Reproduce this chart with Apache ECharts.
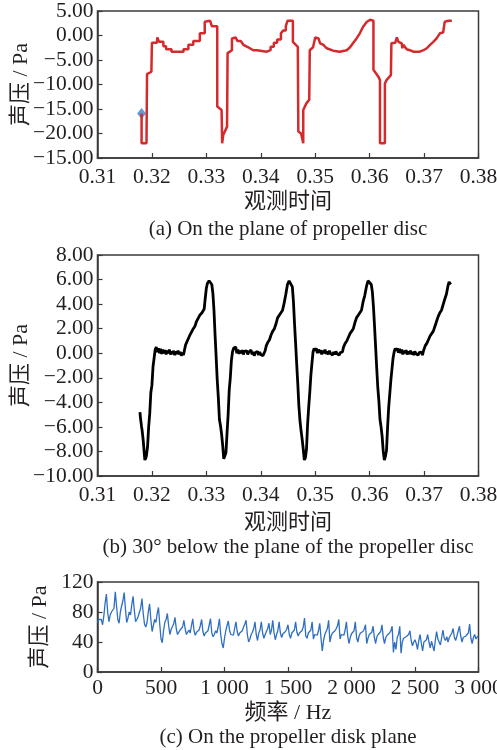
<!DOCTYPE html>
<html><head><meta charset="utf-8">
<script src="https://cdn.jsdelivr.net/npm/echarts@6/dist/echarts.min.js"></script>
<style>html,body{margin:0;padding:0;background:#fff}#c{width:497px;height:750px}</style>
</head><body><div id="c"></div>
<script>
// (a) time-domain signal on the plane of the propeller disc
const timeA = [0.3181,0.3181,0.3190,0.3191,0.3199,0.3200,0.3209,0.3210,0.3213,0.3221,0.3221,0.3226,0.3226,0.3236,0.3236,0.3258,0.3258,0.3267,0.3267,0.3276,0.3276,0.3288,0.3288,0.3297,0.3297,0.3307,0.3310,0.3320,0.3320,0.3328,0.3329,0.3331,0.3338,0.3339,0.3347,0.3347,0.3354,0.3357,0.3363,0.3363,0.3368,0.3377,0.3386,0.3393,0.3393,0.3411,0.3411,0.3418,0.3418,0.3424,0.3424,0.3430,0.3430,0.3437,0.3437,0.3441,0.3446,0.3446,0.3449,0.3449,0.3459,0.3459,0.3468,0.3469,0.3474,0.3478,0.3478,0.3484,0.3489,0.3490,0.3496,0.3500,0.3506,0.3509,0.3512,0.3515,0.3521,0.3533,0.3545,0.3558,0.3564,0.3570,0.3576,0.3582,0.3588,0.3595,0.3601,0.3607,0.3607,0.3616,0.3619,0.3619,0.3628,0.3628,0.3631,0.3639,0.3640,0.3647,0.3650,0.3653,0.3659,0.3660,0.3662,0.3668,0.3674,0.3680,0.3692,0.3699,0.3705,0.3711,0.3717,0.3723,0.3729,0.3735,0.3738,0.3745,0.3751];
const pressureA = [-15.9,-22.0,-22.0,-7.9,-7.4,-1.5,-1.5,-0.4,-1.3,-1.3,-2.2,-2.2,-2.8,-2.8,-3.3,-3.3,-2.8,-2.8,-1.9,-1.9,-1.1,-1.1,0.45,0.45,2.8,3.0,1.9,1.9,-14.5,-15.2,-22.0,-20.3,-18.6,-3.6,-3.0,-0.6,-0.4,-1.1,-1.1,-1.5,-1.9,-2.4,-3.0,-3.0,-3.3,-3.3,-3.0,-3.0,-2.3,-2.3,-1.5,-1.5,-0.8,-0.8,0.45,1.0,1.0,1.9,1.9,3.0,3.0,-1.3,-2.3,-19.6,-20.0,-22.0,-15.2,-13.8,-13.1,-3.0,-2.4,-0.4,-0.6,-1.6,-1.3,-1.9,-2.6,-3.1,-3.3,-3.0,-2.4,-1.5,-0.6,0.45,1.8,2.8,3.2,3.0,-7.0,-8.4,-9.1,-22.0,-22.0,-9.8,-9.1,-8.1,-1.6,-1.5,-0.4,-1.3,-1.6,-2.6,-1.9,-2.8,-3.0,-3.3,-3.3,-3.0,-2.6,-1.9,-1.3,-0.6,0.45,0.6,2.8,3.0,3.0];
// tick labels of (a), bottom to top, as printed in the source
const yLabelsA = ['−15.00','−20.00','−15.00','−10.00','−5.00','0.00','5.00'];

// (b) 30° below the plane of the propeller disc
const timeB = [0.3178,0.3179,0.3181,0.3182,0.3184,0.3186,0.3187,0.3189,0.3190,0.3192,0.3194,0.3196,0.3198,0.3200,0.3202,0.3204,0.3206,0.3208,0.3210,0.3212,0.3214,0.3216,0.3218,0.3220,0.3222,0.3224,0.3226,0.3228,0.3230,0.3232,0.3234,0.3236,0.3238,0.3240,0.3242,0.3244,0.3246,0.3248,0.3250,0.3252,0.3254,0.3256,0.3258,0.3260,0.3262,0.3264,0.3267,0.3270,0.3273,0.3276,0.3279,0.3282,0.3285,0.3288,0.3290,0.3292,0.3294,0.3296,0.3298,0.3300,0.3302,0.3305,0.3308,0.3310,0.3312,0.3314,0.3316,0.3318,0.3320,0.3322,0.3324,0.3326,0.3328,0.3330,0.3332,0.3334,0.3336,0.3338,0.3340,0.3342,0.3344,0.3346,0.3348,0.3350,0.3352,0.3354,0.3356,0.3358,0.3360,0.3362,0.3364,0.3366,0.3368,0.3370,0.3372,0.3374,0.3376,0.3378,0.3380,0.3382,0.3384,0.3386,0.3388,0.3390,0.3392,0.3394,0.3396,0.3398,0.3400,0.3402,0.3404,0.3406,0.3408,0.3410,0.3413,0.3416,0.3419,0.3422,0.3425,0.3428,0.3431,0.3434,0.3437,0.3440,0.3443,0.3446,0.3449,0.3452,0.3455,0.3458,0.3460,0.3462,0.3464,0.3466,0.3468,0.3470,0.3472,0.3474,0.3476,0.3478,0.3480,0.3482,0.3484,0.3486,0.3488,0.3490,0.3492,0.3494,0.3496,0.3498,0.3500,0.3502,0.3504,0.3506,0.3508,0.3510,0.3512,0.3514,0.3516,0.3518,0.3520,0.3522,0.3524,0.3526,0.3528,0.3530,0.3532,0.3534,0.3536,0.3538,0.3540,0.3542,0.3544,0.3546,0.3548,0.3550,0.3552,0.3555,0.3558,0.3561,0.3564,0.3567,0.3570,0.3573,0.3576,0.3579,0.3582,0.3585,0.3588,0.3591,0.3594,0.3597,0.3600,0.3603,0.3605,0.3607,0.3609,0.3611,0.3613,0.3615,0.3617,0.3619,0.3621,0.3623,0.3625,0.3627,0.3629,0.3631,0.3633,0.3635,0.3637,0.3639,0.3641,0.3643,0.3645,0.3647,0.3649,0.3651,0.3653,0.3655,0.3657,0.3659,0.3661,0.3663,0.3665,0.3667,0.3669,0.3671,0.3673,0.3675,0.3677,0.3679,0.3681,0.3683,0.3685,0.3687,0.3689,0.3691,0.3693,0.3695,0.3697,0.3699,0.3702,0.3705,0.3708,0.3711,0.3714,0.3717,0.3720,0.3723,0.3726,0.3729,0.3732,0.3735,0.3738,0.3741,0.3744,0.3746,0.3748,0.3749];
const pressureB = [-4.8,-5.3,-6.0,-6.3,-7.1,-8.2,-8.7,-8.5,-8.3,-7.6,-6.0,-4.9,-3.2,-2.6,-1.1,-0.4,0.3,0.5,0.1,0.4,0.0,0.35,-0.05,0.3,0.0,0.25,-0.1,0.2,0.0,0.3,-0.1,0.15,-0.05,0.2,-0.15,0.15,-0.05,0.2,-0.1,0.1,-0.2,0.05,-0.15,0.3,0.7,0.8,1.2,1.5,1.6,2.0,2.2,2.6,2.7,3.1,3.2,3.3,3.4,3.6,4.5,5.3,5.7,5.9,5.8,5.6,4.9,3.5,1.5,-0.3,-2.2,-3.6,-5.4,-5.9,-6.6,-7.5,-8.6,-8.7,-8.1,-6.5,-5.0,-3.0,-2.0,-0.6,0.1,0.4,0.3,0.5,0.0,0.3,-0.05,0.2,0.0,0.25,-0.1,0.15,0.0,0.2,-0.1,0.1,-0.05,0.25,-0.1,0.1,-0.2,0.05,-0.1,0.15,-0.15,0.1,-0.1,0.0,-0.2,-0.1,0.2,0.6,0.9,1.1,1.5,1.8,2.0,2.4,2.9,3.1,3.2,3.5,4.1,4.8,5.6,5.9,5.8,5.4,4.2,2.4,0.8,-0.9,-2.5,-4.3,-5.5,-6.3,-7.0,-7.8,-8.7,-8.5,-7.8,-5.8,-4.4,-3.2,-1.8,-0.8,0.1,0.4,0.2,0.4,0.0,0.3,0.05,0.25,-0.1,0.2,0.0,0.3,-0.05,0.15,-0.1,0.2,0.0,0.15,-0.15,0.1,-0.1,0.15,-0.05,0.1,-0.15,0.05,-0.1,0.1,0.5,0.8,1.0,1.3,1.6,1.8,2.0,2.5,2.9,3.1,3.3,3.5,4.2,4.7,5.4,5.9,5.8,5.6,5.0,3.8,2.2,0.5,-1.2,-2.8,-3.9,-5.4,-6.0,-6.8,-8.0,-8.7,-8.4,-7.9,-6.0,-4.4,-3.3,-2.2,-1.3,-0.4,0.1,0.4,0.2,0.4,0.05,0.35,0.0,0.3,-0.1,0.2,0.0,0.25,-0.1,0.15,-0.05,0.2,-0.1,0.1,-0.15,0.15,-0.05,0.1,-0.15,0.05,-0.1,0.1,-0.15,0.2,0.6,0.8,1.1,1.4,1.5,1.8,2.2,2.6,3.0,3.3,3.5,3.6,4.4,4.8,5.5,5.8,5.8,5.6];

// (c) spectrum on the propeller disk plane, 10 Hz bins from 0 to 3000 Hz
const freqStepC = 10;
const ampC = [66,70,69,70,63,75,92,104,80,67,
76,80,78,85,107,88,70,65,80,88,
95,106,84,66,72,80,76,90,101,82,
67,70,74,72,85,98,78,64,60,66,
80,91,70,54,62,70,66,78,86,64,
44,39,55,66,70,78,62,50,57,55,
64,73,58,50,52,56,54,60,69,58,
50,53,56,52,62,71,55,49,53,51,
56,62,70,54,48,52,50,55,63,71,
52,47,50,55,52,60,71,50,38,32,
45,55,62,68,55,50,52,49,58,67,
54,48,52,50,55,60,64,69,50,40,
44,50,53,58,67,50,42,52,56,67,
52,45,50,54,58,65,50,56,69,52,
43,50,55,67,52,46,51,49,54,57,
63,50,45,52,50,56,67,53,48,52,
50,55,60,72,48,45,52,50,56,67,
44,50,52,49,55,65,45,28,42,50,
52,58,69,40,48,52,50,55,58,62,
70,44,50,52,49,56,67,48,38,46,
51,49,55,67,46,40,48,52,50,54,
57,63,38,45,50,48,53,61,46,38,
47,50,48,54,63,46,38,46,49,47,
52,55,61,26,40,30,46,50,61,25,
40,45,43,47,45,50,55,42,35,40,
43,38,30,42,50,38,28,40,38,43,
50,40,32,41,39,28,42,54,44,40,
36,46,56,45,42,47,40,46,48,52,
58,46,42,48,50,61,48,40,46,44,
48,47,52,64,45,38,46,50,44,47,
48];

const captions = ['(a) On the plane of propeller disc', '(b) 30° below the plane of the propeller disc', '(c) On the propeller disk plane'];
const xNames = ['观测时间', '观测时间', '频率 / Hz'];
const yName = '声压 / Pa';

const FONT = '"Liberation Serif","Times New Roman","Noto Sans CJK SC",serif';
const TXT = '#231f20';
const AX = '#3a3a3a';
const LBL = 21.5, NAME = 22, CAP = 21;

function minus(s){ return s.replace('-', '−'); }
function thousands(v){ return v >= 1000 ? Math.floor(v/1000) + ' ' + String(v % 1000).padStart(3,'0') : String(v); }

function lbl(margin, formatter){
  const o = {color:TXT, fontFamily:FONT, fontSize:LBL, margin:margin};
  if (formatter) o.formatter = formatter;
  return o;
}
function xAxisCfg(gi, extra){
  return Object.assign({
    type:'value', gridIndex:gi,
    axisLine:{show:true, onZero:false, lineStyle:{color:AX, width:1.5}},
    axisTick:{show:true, inside:true, length:5, lineStyle:{color:AX, width:1.2}},
    splitLine:{show:false},
    name:xNames[gi], nameLocation:'middle', nameMoveOverlap:false,
    nameTextStyle:{color:TXT, fontFamily:FONT, fontSize:NAME}
  }, extra);
}
function yAxisCfg(gi, extra){
  return Object.assign({
    type:'value', gridIndex:gi,
    axisLine:{show:true, onZero:false, lineStyle:{color:AX, width:1.5}},
    axisTick:{show:true, inside:true, length:5, lineStyle:{color:AX, width:1.2}},
    splitLine:{show:false},
    name:yName, nameLocation:'middle', nameRotate:90, nameMoveOverlap:false,
    nameTextStyle:{color:TXT, fontFamily:FONT, fontSize:NAME}
  }, extra);
}

const chart = echarts.init(document.getElementById('c'), null, {renderer:'canvas'});
const gridBase = {left:97.5, width:381, show:true, borderColor:AX, borderWidth:1.5, backgroundColor:'transparent', containLabel:false, outerBoundsMode:'none'};

chart.setOption({
  animation:false,
  backgroundColor:'#fff',
  grid:[
    Object.assign({top:11, height:147}, gridBase),
    Object.assign({top:255, height:221}, gridBase),
    Object.assign({top:582, height:90}, gridBase)
  ],
  xAxis:[
    xAxisCfg(0, {min:0.31, max:0.38, interval:0.01, nameGap:33, axisLabel:lbl(9, v=>v.toFixed(2))}),
    xAxisCfg(1, {min:0.31, max:0.38, interval:0.01, nameGap:36, axisLabel:lbl(9, v=>v.toFixed(2))}),
    xAxisCfg(2, {min:0, max:3000, interval:500, nameGap:30, axisLabel:lbl(6, thousands)})
  ],
  yAxis:[
    yAxisCfg(0, {min:-25, max:5, interval:5, nameGap:65, axisLabel:lbl(4, v=>yLabelsA[Math.round((v+25)/5)])}),
    yAxisCfg(1, {min:-10, max:8, interval:2, nameGap:65, axisLabel:lbl(4, v=>minus(v.toFixed(2)))}),
    yAxisCfg(2, {min:0, max:120, interval:40, nameGap:46, axisLabel:lbl(4)})
  ],
  series:[
    {type:'line', xAxisIndex:0, yAxisIndex:0, showSymbol:false, symbol:'none',
     data:timeA.map((t,i)=>[t, pressureA[i]]),
     lineStyle:{color:'#d42a2c', width:2.5}},
    {type:'scatter', xAxisIndex:0, yAxisIndex:0, symbol:'diamond', symbolSize:[9,11],
     data:[[timeA[0], pressureA[0]]], itemStyle:{color:'#3f7fd0'}},
    {type:'line', xAxisIndex:1, yAxisIndex:1, showSymbol:false, symbol:'none',
     data:timeB.map((t,i)=>[t, pressureB[i]]),
     lineStyle:{color:'#000', width:2.8}},
    {type:'line', xAxisIndex:2, yAxisIndex:2, showSymbol:false, symbol:'none',
     data:ampC.map((v,i)=>[i*freqStepC, v]),
     lineStyle:{color:'#2f6fc1', width:1.3}}
  ],
  graphic:[
    {type:'text', x:288, y:229, style:{text:captions[0], font:CAP+'px '+FONT, fill:TXT, textAlign:'center', textVerticalAlign:'middle'}},
    {type:'text', x:288, y:547, style:{text:captions[1], font:CAP+'px '+FONT, fill:TXT, textAlign:'center', textVerticalAlign:'middle'}},
    {type:'text', x:288, y:737, style:{text:captions[2], font:CAP+'px '+FONT, fill:TXT, textAlign:'center', textVerticalAlign:'middle'}}
  ]
});
</script>
</body></html>
